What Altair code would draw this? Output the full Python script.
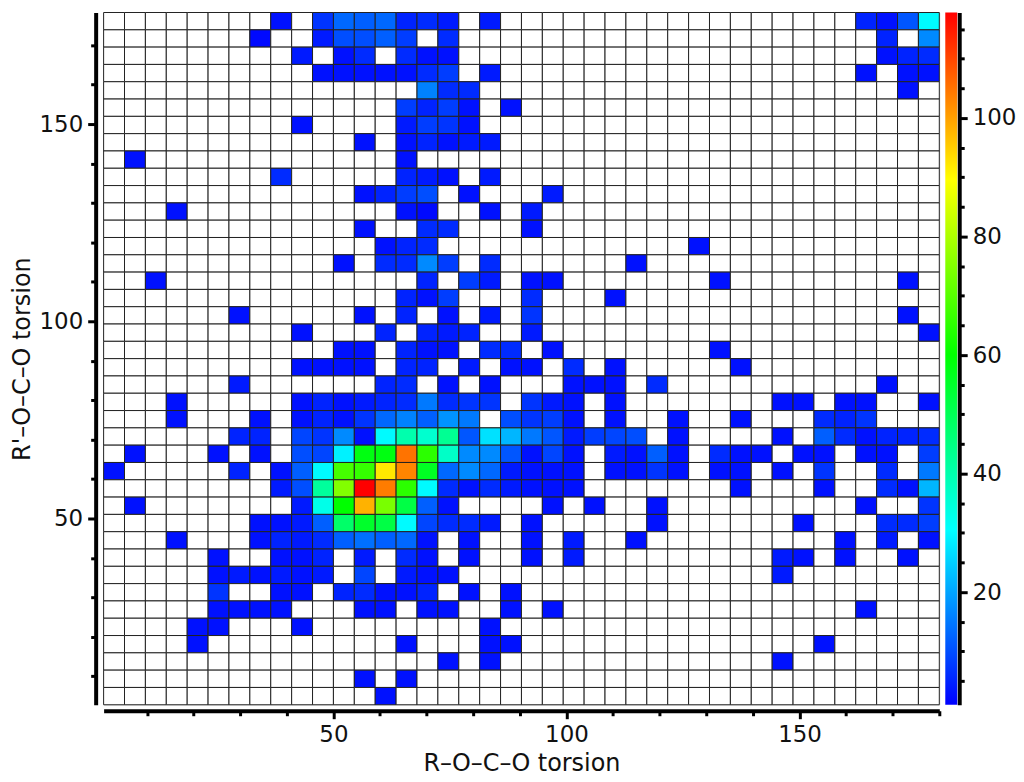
import altair as alt
import pandas as pd

# counts per histogram row, top row first: {column index: count}
rows = [
    {8:3,10:7,11:13,12:12,13:13,14:5,15:6,16:4,18:4,36:5,37:3,38:11,39:30},
    {7:2,10:4,11:10,12:10,13:12,14:8,16:6,37:5,39:17},
    {9:4,11:3,12:6,14:6,15:3,16:3,37:3,38:5,39:6},
    {10:3,11:3,12:3,13:3,14:3,15:6,16:8,18:4,36:3,38:3,39:3},
    {15:16,16:6,17:6,38:3},
    {14:8,15:5,16:8,17:3,19:3},
    {9:3,14:4,15:8,16:7,17:3},
    {12:3,14:3,15:5,16:3,17:4,18:4},
    {1:3,14:3},
    {8:6,14:5,15:4,16:3,18:4},
    {12:3,13:5,14:8,15:10,17:3,21:4},
    {3:3,14:3,15:2,18:3,20:4},
    {12:3,15:6,16:6,20:3},
    {13:3,14:5,15:6,28:3},
    {11:3,13:6,14:6,15:17,16:8,18:6,25:3},
    {2:3,15:5,17:8,18:4,20:3,21:3,29:3,38:3},
    {14:5,15:3,16:8,20:6,24:3},
    {6:3,12:3,14:5,16:3,18:4,20:7,38:3},
    {9:3,13:5,15:5,16:4,17:5,20:4,39:3},
    {11:3,12:3,14:5,15:3,16:3,18:6,19:6,21:3,29:3},
    {9:3,10:3,11:3,12:3,14:5,15:5,17:4,19:3,20:3,22:6,24:3,30:3},
    {6:4,13:5,14:6,16:3,18:3,22:3,23:3,24:3,26:6,37:3},
    {3:3,9:3,10:5,11:3,12:4,13:5,14:6,15:15,16:6,17:7,18:7,20:7,21:4,22:3,24:3,32:3,33:3,35:3,36:3,39:3},
    {3:3,7:3,9:3,10:5,11:3,12:7,13:13,14:16,15:12,16:18,17:15,19:10,20:7,21:8,22:3,24:3,27:3,30:3,34:6,35:5,36:7},
    {6:5,7:5,9:9,10:7,11:17,12:3,13:30,14:40,15:36,16:43,17:11,18:27,19:22,20:15,21:11,22:4,23:8,24:9,25:10,27:3,32:3,34:12,35:6,36:3,37:5,38:5,39:6},
    {1:3,5:3,7:3,9:10,10:9,11:29,12:58,13:58,14:105,15:65,16:37,17:17,18:17,19:11,20:3,21:9,22:3,24:4,25:3,26:12,27:3,29:6,30:3,31:3,33:3,34:3,36:3,37:3,39:8},
    {0:3,6:5,8:3,9:12,10:30,11:68,12:66,13:92,14:103,15:56,16:13,17:17,18:13,19:4,20:3,21:3,22:3,24:3,25:3,26:7,27:3,29:3,30:3,32:3,34:7,37:6,39:15},
    {8:4,9:10,10:42,11:75,12:118,13:104,14:65,15:30,16:6,17:3,18:6,19:4,20:3,21:3,22:3,30:3,34:3,37:6,38:3,39:22},
    {1:3,9:4,10:33,11:60,12:98,13:74,14:52,15:12,16:3,21:3,23:3,26:3,36:3,39:7},
    {7:3,8:3,9:4,10:12,11:48,12:55,13:52,14:30,15:9,16:6,17:6,18:4,20:3,26:3,33:3,37:6,38:6,39:8},
    {3:3,7:3,8:5,9:4,10:6,11:12,12:14,13:12,14:13,15:3,17:3,20:3,22:4,25:3,35:3,37:4,39:3},
    {5:3,8:3,9:3,10:5,12:4,14:6,15:3,17:3,20:3,22:4,32:4,33:3,35:3,38:3},
    {5:3,6:4,7:3,8:4,9:3,10:4,12:9,14:4,15:3,16:3,32:4},
    {5:7,8:3,9:3,11:5,12:6,13:3,14:3,15:5,17:3,19:3},
    {5:3,6:3,7:3,8:3,12:3,13:3,15:3,16:3,19:3,21:3,36:3},
    {4:3,5:3,9:3,18:3},
    {4:3,14:3,18:3,19:3,34:3},
    {16:3,18:3,32:3},
    {12:3,14:3},
    {13:3},
]

x_min, x_max = 0.7, 180.0
y_min, y_max = 2.8, 178.3
c_min, c_max = 1.0, 117.8
color_stops = [1.0, 30.5, 60.0, 89.5, 117.8]
color_names = ["#0000ff", "#00ffff", "#00ff00", "#ffff00", "#ff0000"]
major_ticks = [50, 100, 150]
minor_ticks = [10, 20, 30, 40, 60, 70, 80, 90, 110, 120, 130, 140, 160, 170, 180]
bar_major = [20, 40, 60, 80, 100]
bar_minor = [5, 10, 15, 25, 30, 35, 45, 50, 55, 65, 70, 75, 85, 90, 95, 105, 110, 115]

n = 40
dx = (x_max - x_min) / n
dy = (y_max - y_min) / n
records = []
for r, row in enumerate(rows):
    for c in range(n):
        records.append({
            "x0": x_min + c * dx, "x1": x_min + (c + 1) * dx,
            "y0": y_max - (r + 1) * dy, "y1": y_max - r * dy,
            "count": row.get(c, 0),
        })
cells = pd.DataFrame(records)

FONT = "DejaVu Sans"
W, H = 839, 695

x_scale = alt.Scale(domain=[x_min, x_max], nice=False, zero=False)
y_scale = alt.Scale(domain=[y_min, y_max], nice=False, zero=False)
c_scale = alt.Scale(domain=[c_min, c_max], nice=False, zero=False)


def major_axis(orient, values, title, offset):
    return alt.Axis(
        orient=orient, values=values, title=title, offset=offset, grid=False,
        domainColor="black", domainWidth=4, tickColor="black", tickWidth=3, tickSize=8,
        labelFont=FONT, labelFontSize=23, labelColor="#111111", labelPadding=5,
        titleFont=FONT, titleFontSize=24, titleFontWeight="normal", titleColor="#111111",
        titlePadding=5,
    )


def minor_axis(orient, values, offset):
    return alt.Axis(
        orient=orient, values=values, title=None, offset=offset, grid=False, labels=False,
        domain=False, tickColor="black", tickWidth=3, tickSize=5,
    )


heat = alt.Chart(cells).mark_rect(stroke="#222222", strokeWidth=1).encode(
    x=alt.X("x0:Q", scale=x_scale, axis=major_axis("bottom", major_ticks, "R–O–C–O torsion", 6)),
    x2="x1:Q",
    y=alt.Y("y0:Q", scale=y_scale, axis=major_axis("left", major_ticks, "R'–O–C–O torsion", 8)),
    y2="y1:Q",
    color=alt.Color(
        "count:Q",
        scale=alt.Scale(
            domain=[0] + color_stops, range=["#ffffff"] + color_names,
            clamp=True, interpolate="rgb",
        ),
        legend=None,
    ),
)

anchor = pd.DataFrame({"a": [x_min], "b": [y_min], "low": [c_min], "high": [c_max]})

minor = alt.Chart(anchor).mark_point(opacity=0).encode(
    x=alt.X("a:Q", scale=x_scale, axis=minor_axis("bottom", minor_ticks, 6)),
    y=alt.Y("b:Q", scale=y_scale, axis=minor_axis("left", minor_ticks, 8)),
)

gradient = alt.Gradient(
    gradient="linear", x1=0, x2=0, y1=1, y2=0,
    stops=[
        alt.GradientStop(color=col, offset=(v - c_min) / (c_max - c_min))
        for v, col in zip(color_stops, color_names)
    ],
)

bar = alt.Chart(anchor).mark_rect(color=gradient).encode(
    x=alt.value(W + 6), x2=alt.value(W + 18),
    y=alt.Y("low:Q", scale=c_scale, axis=major_axis("right", bar_major, None, 20)),
    y2="high:Q",
)
bar_ticks = alt.Chart(anchor).mark_point(opacity=0).encode(
    x=alt.value(W + 6),
    y=alt.Y("high:Q", scale=c_scale, axis=minor_axis("right", bar_minor, 20)),
)

chart = alt.layer(heat, minor, bar, bar_ticks).resolve_scale(y="independent").resolve_axis(
    x="independent", y="independent"
).properties(
    width=W, height=H,
    padding={"left": 2, "top": 0, "right": 0, "bottom": 0},
).configure_view(stroke=None).configure(background="white")

chart.save("out.html", embed_options={"renderer": "svg", "actions": False})
